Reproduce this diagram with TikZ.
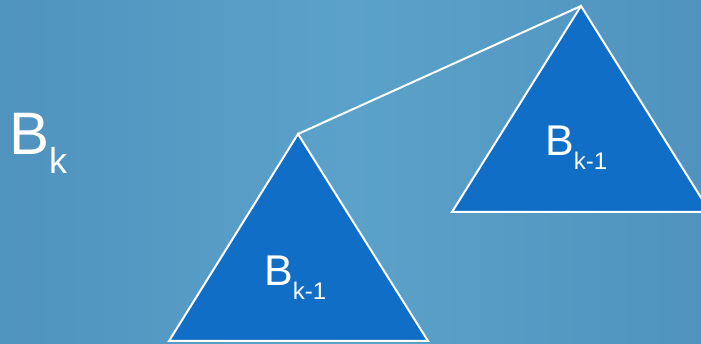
\documentclass[tikz,border=0pt]{standalone}
\usepackage{fontspec}
\setmainfont{Liberation Sans}
\definecolor{fondclair}{HTML}{5BA2CA}
\definecolor{fondsombre}{HTML}{4F93BE}
\definecolor{arbre}{HTML}{106EC6}
\newcommand{\grandB}[3]{{\fontsize{#1}{#1}\selectfont B}\raisebox{-#3pt}{\fontsize{#2}{#2}\selectfont k}}
\newcommand{\petitB}{{\fontsize{43}{43}\selectfont B}\raisebox{-14pt}{\fontsize{24}{24}\selectfont k-1}}
\begin{document}
\begin{tikzpicture}[x=1pt,y=-1pt]
      % Fond
      \useasboundingbox (0,0) rectangle (701,344);
      \clip (0,0) rectangle (701,344);
      \shade[left color=fondsombre, right color=fondsombre, middle color=fondclair] (0,0) rectangle (701,344);

      % Sommets des arbres
      \coordinate (gsommet) at (298,134);
      \coordinate (dsommet) at (581,6);

      % Arbre de gauche
      \filldraw[fill=arbre, draw=white, line width=2pt, line join=miter] (gsommet) -- (169,341) -- (428,341) -- cycle;

      % Arbre de droite
      \filldraw[fill=arbre, draw=white, line width=2pt, line join=miter] (dsommet) -- (452,212) -- (710,212) -- cycle;

      % Lien entre les racines
      \draw[white, line width=2pt] (gsommet) -- (dsommet);

      % Etiquettes
      \node[white, anchor=base west, inner sep=0pt] (bk) at (9,155) {\grandB{60}{36}{19}};
      \node[white, anchor=base west, inner sep=0pt] (gauche) at (264,286) {\petitB};
      \node[white, anchor=base west, inner sep=0pt] (droite) at (545,156) {\petitB};
\end{tikzpicture}
\end{document}
